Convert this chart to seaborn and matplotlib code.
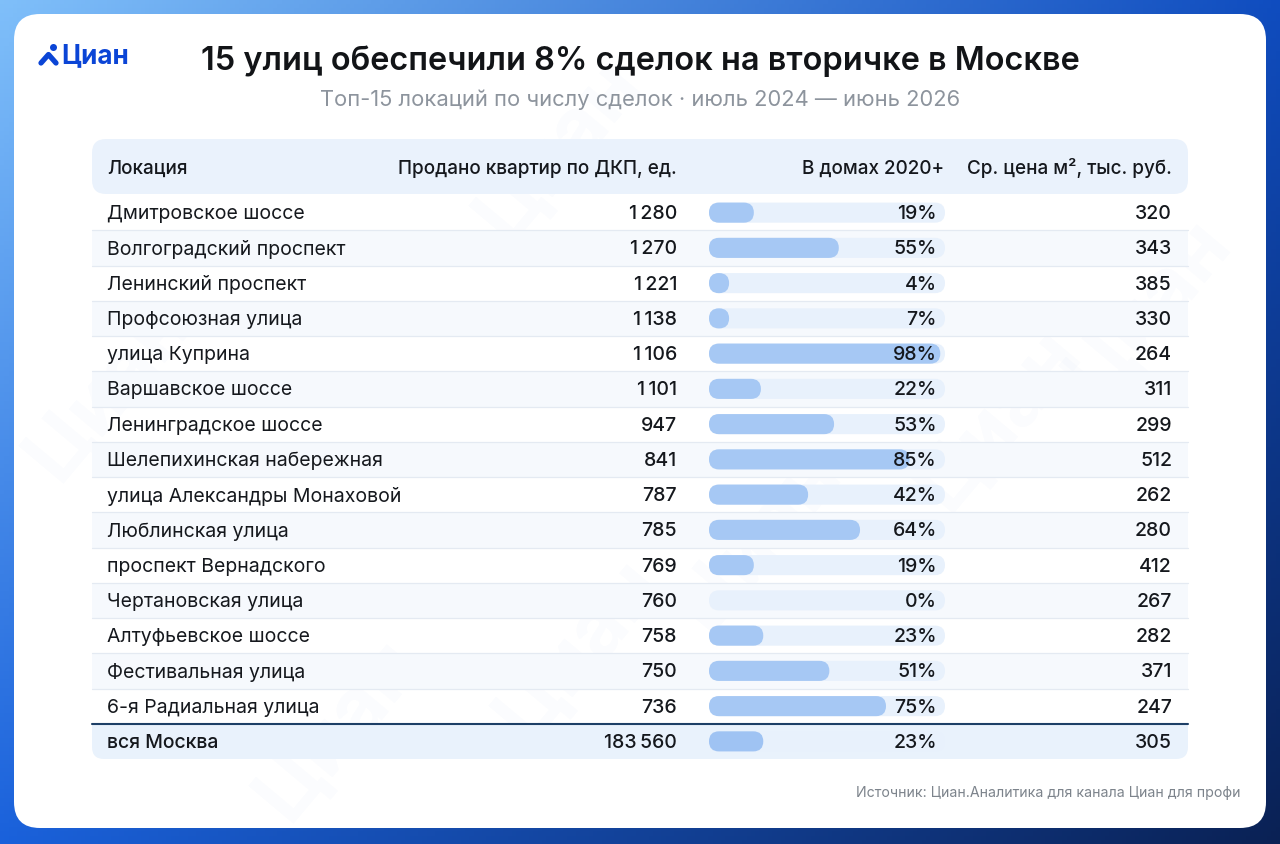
import numpy as np
import pandas as pd
import matplotlib
matplotlib.use("Agg")
import matplotlib.pyplot as plt
from matplotlib.patches import FancyBboxPatch
import seaborn as sns

# ---------------- data ----------------
locations = ["Дмитровское шоссе", "Волгоградский проспект", "Ленинский проспект",
             "Профсоюзная улица", "улица Куприна", "Варшавское шоссе",
             "Ленинградское шоссе", "Шелепихинская набережная",
             "улица Александры Монаховой", "Люблинская улица",
             "проспект Вернадского", "Чертановская улица", "Алтуфьевское шоссе",
             "Фестивальная улица", "6-я Радиальная улица", "вся Москва"]
sold = [1280, 1270, 1221, 1138, 1106, 1101, 947, 841, 787, 785, 769, 760, 758, 750, 736, 183560]
share_new = [19, 55, 4, 7, 98, 22, 53, 85, 42, 64, 19, 0, 23, 51, 75, 23]
price = [320, 343, 385, 330, 264, 311, 299, 512, 262, 280, 412, 267, 282, 371, 247, 305]
headers = ["Локация", "Продано квартир по ДКП, ед.", "В домах 2020+", "Ср. цена м², тыс. руб."]
title = "15 улиц обеспечили 8% сделок на вторичке в Москве"
subtitle = "Топ-15 локаций по числу сделок · июль 2024 — июнь 2026"
source = "Источник: Циан.Аналитика для канала Циан для профи"
brand = "Циан"

df = pd.DataFrame({"loc": locations, "sold": sold, "share": share_new, "price": price})

FONT = ["Inter", "DejaVu Sans"]
sns.set_theme(style="white")
plt.rcParams["font.family"] = FONT

W, H = 1280, 844
fig = plt.figure(figsize=(W / 100, H / 100), dpi=100)

# ---------------- background gradient ----------------
bg = fig.add_axes([0, 0, 1, 1])
bg.set_xlim(0, W); bg.set_ylim(H, 0); bg.axis("off")
yy, xx = np.mgrid[0:1:200j, 0:1:300j]
c_tl = np.array([0.50, 0.75, 0.98])
c_tr = np.array([0.06, 0.30, 0.75])
c_bl = np.array([0.10, 0.38, 0.86])
c_br = np.array([0.04, 0.13, 0.33])
img = ((1 - xx)[..., None] * (1 - yy)[..., None] * c_tl + xx[..., None] * (1 - yy)[..., None] * c_tr
       + (1 - xx)[..., None] * yy[..., None] * c_bl + xx[..., None] * yy[..., None] * c_br)
bg.imshow(img, extent=[0, W, H, 0], aspect="auto", zorder=0)

# card
bg.add_patch(FancyBboxPatch((14, 14), W - 28, H - 28 - 2, boxstyle="round,pad=0,rounding_size=26",
                            fc="white", ec="none", zorder=1))

# faint watermarks (kept inside the card)
for (wx, wy) in [(560, 150), (1150, 310), (1000, 420), (760, 540), (580, 650), (340, 730), (110, 390)]:
    bg.text(wx, wy, brand, fontsize=58, fontweight="bold", color="#3d7fe6", alpha=0.025,
            rotation=50, ha="center", va="center", zorder=1.5)

# ---------------- table geometry ----------------
x0, x1 = 92, 1188
row_top = 195
pitch = 35.25
n = len(locations)
DY = 1.5  # baseline tweak

# header band
bg.add_patch(FancyBboxPatch((x0, 139), x1 - x0, 55, boxstyle="round,pad=0,rounding_size=14",
                            fc="#eaf2fc", ec="none", zorder=2))
# rows
for i in range(n - 1):
    ytop = row_top + i * pitch
    if i % 2 == 1:
        bg.add_patch(plt.Rectangle((x0, ytop), x1 - x0, pitch, fc="#f6f9fd", ec="none", zorder=2))
    if i > 0:
        bg.plot([x0, x1], [ytop, ytop], color="#e4eaf2", lw=0.9, zorder=2.5)
# total row
ttop = row_top + (n - 1) * pitch
bg.add_patch(FancyBboxPatch((x0, ttop), x1 - x0, pitch, boxstyle="round,pad=0,rounding_size=12",
                            fc="#e9f2fc", ec="none", zorder=2))
bg.add_patch(plt.Rectangle((x0, ttop), x1 - x0, 14, fc="#e9f2fc", ec="none", zorder=2))
bg.plot([x0, x1], [ttop, ttop], color="#1d3f66", lw=1.5, zorder=3)

# headers
hy = 167 + DY
TXT = "#15181d"
HFS = 13.6
bg.text(107, hy, headers[0], ha="left", va="center", fontsize=HFS, fontweight="medium", color=TXT, zorder=5)
bg.text(677, hy, headers[1], ha="right", va="center", fontsize=HFS, fontweight="medium", color=TXT, zorder=5)
bg.text(944, hy, headers[2], ha="right", va="center", fontsize=HFS, fontweight="medium", color=TXT, zorder=5)
bg.text(1172, hy, headers[3], ha="right", va="center", fontsize=HFS, fontweight="medium", color=TXT, zorder=5)

def fmt(v):
    return f"{v:,}".replace(",", "\u2009")

FS = 14
for i, r in df.iterrows():
    cy = row_top + (i + 0.5) * pitch + DY
    wt = "medium" if i == n - 1 else "normal"
    bg.text(107, cy, r["loc"], ha="left", va="center", fontsize=FS, fontweight=wt, color=TXT, zorder=5)
    bg.text(677, cy, fmt(r["sold"]), ha="right", va="center", fontsize=FS, fontweight="medium", color=TXT, zorder=5)
    bg.text(1172, cy, str(r["price"]), ha="right", va="center", fontsize=FS, fontweight="medium", color=TXT, zorder=5)

# ---------------- bar column (seaborn) ----------------
bx0, bx1 = 709, 945
bax = fig.add_axes([bx0 / W, (H - (row_top + n * pitch)) / H, (bx1 - bx0) / W, n * pitch / H])
bax.set_zorder(3)
bax.patch.set_alpha(0)
track = df.assign(full=100)
sns.barplot(data=track, y="loc", x="full", orient="h", color="#e8f1fc", width=0.57,
            saturation=1, ax=bax, zorder=1)
n_track = len(bax.patches)
sns.barplot(data=df, y="loc", x="share", orient="h", color="#a6c8f4", width=0.57,
            saturation=1, ax=bax, zorder=2)
bax.set_xlim(0, 100)
bax.set_ylim(n - 0.5, -0.5)
bax.axis("off")

xpp = 100 / (bx1 - bx0)          # x data per pixel
ypp = 1 / pitch                  # y data per pixel
aspect = ypp / xpp
patches = list(bax.patches)
for k, p in enumerate(patches):
    x, y, w, h = p.get_x(), p.get_y(), p.get_width(), p.get_height()
    fc = p.get_facecolor()
    zo = p.get_zorder()
    p.remove()
    if w <= 0:
        continue
    hx = h / aspect
    w = max(w, hx)
    if k >= n_track and k - n_track == n - 1:
        fc = "#9fc3f3"
    bax.add_patch(FancyBboxPatch((x, y), w, h, boxstyle=f"round,pad=0,rounding_size={hx / 2}",
                                 mutation_aspect=aspect, fc=fc, ec="none", zorder=zo))

for i, v in enumerate(df["share"]):
    bax.text(96.6, i + DY * ypp, f"{v}%", ha="right", va="center", fontsize=FS,
             fontweight="medium", color=TXT, zorder=5)

# ---------------- titles ----------------
bg.text(640, 61, title, ha="center", va="center", fontsize=23.4, fontweight="semibold", color="#121417", zorder=5)
bg.text(640, 100, subtitle, ha="center", va="center", fontsize=15.8, color="#8d949d", zorder=5)
bg.text(1240, 793, source, ha="right", va="center", fontsize=10.2, color="#7d848c", zorder=5)

# logo
bg.text(61, 56, brand, ha="left", va="center", fontsize=18.8, fontweight="bold", color="#0b45d6", zorder=5)
bg.plot([41, 48.5, 56], [63, 54.5, 63], color="#0b45d6", lw=3.8, solid_capstyle="round",
        solid_joinstyle="round", zorder=5)
bg.add_patch(plt.Circle((53.5, 47.5), 3.5, fc="#0b45d6", ec="none", zorder=5))

fig.savefig("out.png", dpi=100)
